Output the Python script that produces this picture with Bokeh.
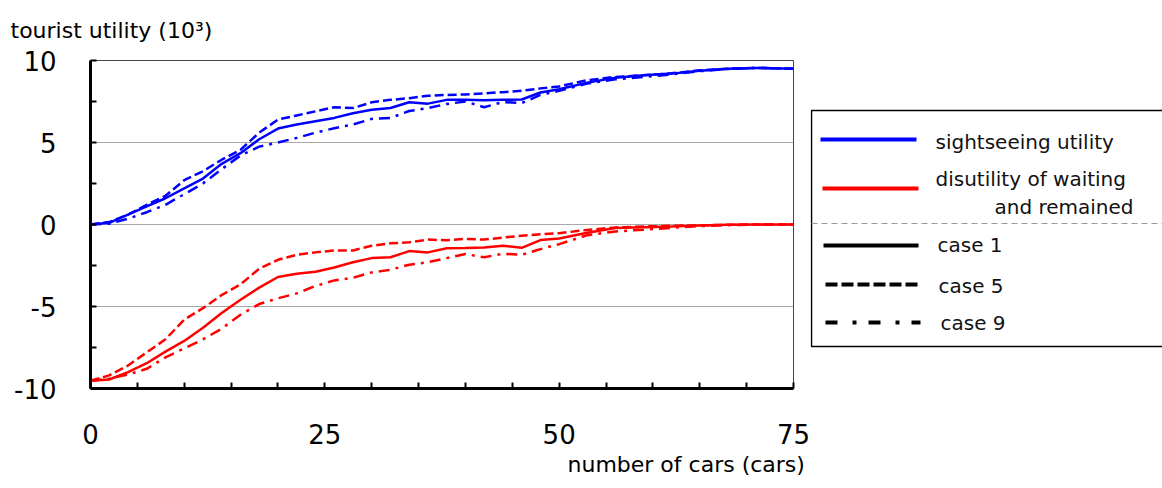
from bokeh.plotting import figure
from bokeh.models import FixedTicker, Range1d, Title, PrintfTickFormatter
from bokeh.layouts import row
from bokeh.core.properties import value
from bokeh.embed import file_html
from bokeh.resources import INLINE

# ---------------- data ----------------
cars = [0, 2, 4, 6, 8, 10, 12, 14, 16, 18, 20, 22, 24, 26, 28, 30, 32, 34, 36, 38,
        40, 42, 44, 46, 48, 50, 53, 56, 59, 62, 65, 68, 71, 75]

sight_case1 = [0, 0.1, 0.6, 1.1, 1.6, 2.2, 2.8, 3.7, 4.35, 5.2, 5.85, 6.1, 6.3, 6.5,
               6.78, 7.0, 7.1, 7.45, 7.37, 7.6, 7.6, 7.58, 7.6, 7.62, 8.05, 8.25,
               8.65, 8.95, 9.1, 9.2, 9.38, 9.5, 9.55, 9.5]
sight_case5 = [0, 0.15, 0.6, 1.2, 1.75, 2.7, 3.25, 3.95, 4.55, 5.6, 6.4, 6.65, 6.9,
               7.15, 7.1, 7.45, 7.6, 7.7, 7.85, 7.9, 7.93, 8.0, 8.07, 8.15, 8.3,
               8.42, 8.8, 9.0, 9.1, 9.22, 9.4, 9.5, 9.55, 9.5]
sight_case9 = [0, 0.05, 0.35, 0.75, 1.2, 1.85, 2.5, 3.38, 4.2, 4.75, 5.0, 5.28, 5.6,
               5.87, 6.1, 6.44, 6.5, 6.92, 7.1, 7.35, 7.5, 7.15, 7.47, 7.4, 7.9,
               8.15, 8.6, 8.85, 9.0, 9.15, 9.35, 9.48, 9.55, 9.5]

wait_case1 = [-9.53, -9.45, -9.0, -8.46, -7.75, -7.1, -6.3, -5.4, -4.59, -3.85, -3.2,
              -3.0, -2.88, -2.62, -2.3, -2.05, -2.0, -1.62, -1.7, -1.45, -1.44, -1.4,
              -1.3, -1.42, -0.95, -0.85, -0.5, -0.22, -0.17, -0.12, -0.06, -0.02, 0, 0]
wait_case5 = [-9.53, -9.2, -8.6, -7.8, -7.0, -5.8, -5.1, -4.3, -3.65, -2.7, -2.15,
              -1.85, -1.7, -1.58, -1.58, -1.3, -1.15, -1.08, -0.92, -0.96, -0.88,
              -0.92, -0.8, -0.68, -0.6, -0.53, -0.33, -0.18, -0.12, -0.08, -0.05,
              -0.02, 0, 0]
wait_case9 = [-9.53, -9.4, -9.15, -8.8, -8.1, -7.55, -7.0, -6.35, -5.5, -4.85, -4.5,
              -4.2, -3.75, -3.41, -3.25, -2.92, -2.76, -2.45, -2.3, -2.05, -1.8, -2.0,
              -1.78, -1.85, -1.5, -1.2, -0.65, -0.42, -0.32, -0.2, -0.1, -0.04, 0, 0]

y_ticks = [-10, -5, 0, 5, 10]
y_minor = [-7.5, -2.5, 2.5, 7.5]
x_ticks = [0, 25, 50, 75]
x_minor = [5, 10, 15, 20, 30, 35, 40, 45, 55, 60, 65, 70]

y_title = "tourist utility (10³)"
x_title = "number of cars (cars)"
series_labels = ["sightseeing utility", "disutility of waiting", "and remained"]
case_labels = ["case 1", "case 5", "case 9"]

FONT = "DejaVu Sans"
BLUE = "#0000ff"
RED = "#ff0000"
DASH5 = "9 4"
DASH9 = "11 6 3 6"

# ---------------- layout constants (page pixels) ----------------
H = 488
FL, FR, FT, FB = 90, 793, 60, 388
W1 = 810
W_TOTAL = 1162

# ---------------- main chart ----------------
p = figure(width=W1, height=H,
           min_border_left=FL, min_border_right=W1 - FR, min_border_top=FT,
           min_border_bottom=H - FB,
           x_range=Range1d(0, 75), y_range=Range1d(-10, 10),
           output_backend="svg", toolbar_location=None)
p.background_fill_color = "white"
p.border_fill_color = "white"
p.outline_line_color = "#444444"
p.outline_line_width = 1

p.xgrid.visible = False
p.ygrid.ticker = FixedTicker(ticks=[-5, 0, 5])
p.ygrid.grid_line_color = "#a8a8a8"
p.ygrid.grid_line_width = 1

for ax, ticks, minor, stand in ((p.yaxis[0], y_ticks, y_minor, 34),
                                (p.xaxis[0], x_ticks, x_minor, 35)):
    ax.ticker = FixedTicker(ticks=ticks, minor_ticks=minor)
    ax.formatter = PrintfTickFormatter(format="%d")
    ax.axis_line_width = 3
    ax.axis_line_color = "black"
    ax.major_tick_in = 6
    ax.major_tick_out = 0
    ax.minor_tick_in = 6
    ax.minor_tick_out = 0
    ax.major_tick_line_width = 2
    ax.minor_tick_line_width = 2
    ax.major_tick_line_color = "black"
    ax.minor_tick_line_color = "black"
    ax.major_label_text_font = FONT
    ax.major_label_text_font_size = "26px"
    ax.major_label_text_color = "black"
    ax.major_label_standoff = stand

for vals, color, dash in ((sight_case9, BLUE, DASH9), (sight_case5, BLUE, DASH5),
                          (sight_case1, BLUE, "solid"),
                          (wait_case9, RED, DASH9), (wait_case5, RED, DASH5),
                          (wait_case1, RED, "solid")):
    p.line(cars, vals, line_color=color, line_width=2.5, line_dash=dash)

p.add_layout(Title(text=y_title, align="left", offset=10 - FL, vertical_align="top",
                   standoff=32, text_font=FONT, text_font_size="22px",
                   text_font_style="normal", text_color="black"), "above")
p.add_layout(Title(text=x_title, align="left", offset=567 - FL, vertical_align="bottom",
                   standoff=6, text_font=FONT, text_font_size="22px",
                   text_font_style="normal", text_color="black"), "below")

# ---------------- legend panel (page-pixel coordinates) ----------------
q = figure(width=W_TOTAL - W1, height=H, x_range=Range1d(W1, W_TOTAL),
           y_range=Range1d(FB, FT), x_axis_type=None, y_axis_type=None,
           min_border_left=0, min_border_right=0, min_border_top=FT,
           min_border_bottom=H - FB, output_backend="svg", toolbar_location=None)
q.grid.visible = False
q.outline_line_color = None
q.background_fill_color = "white"
q.border_fill_color = "white"

# box and separator
q.quad(left=[811], right=[1200], top=[110], bottom=[346], fill_alpha=0,
       line_color="black", line_width=1.5)
q.segment(x0=[811], y0=[223], x1=[1200], y1=[223], line_color="#999999",
          line_width=1.2, line_dash="6 4")

# sample lines
q.segment(x0=[820], y0=[139], x1=[916], y1=[139], line_color=BLUE, line_width=4)
q.segment(x0=[822], y0=[188], x1=[918], y1=[188], line_color=RED, line_width=4)
q.segment(x0=[823], y0=[245], x1=[918], y1=[245], line_color="black", line_width=4)
q.segment(x0=[825], y0=[284], x1=[918], y1=[284], line_color="black", line_width=4,
          line_dash="12 4")
q.segment(x0=[825], y0=[322], x1=[920], y1=[322], line_color="black", line_width=4,
          line_dash="12 15 4 12")

q.text(x=[935, 935, 994, 937, 938, 940], y=[141, 178, 206, 244, 285, 322],
       text=series_labels + case_labels, text_font=value(FONT),
       text_font_size=value("20px"), text_baseline="middle", text_align="left",
       text_color="#111111")

layout = row(p, q)
open("out.html", "w").write(file_html(layout, INLINE))
